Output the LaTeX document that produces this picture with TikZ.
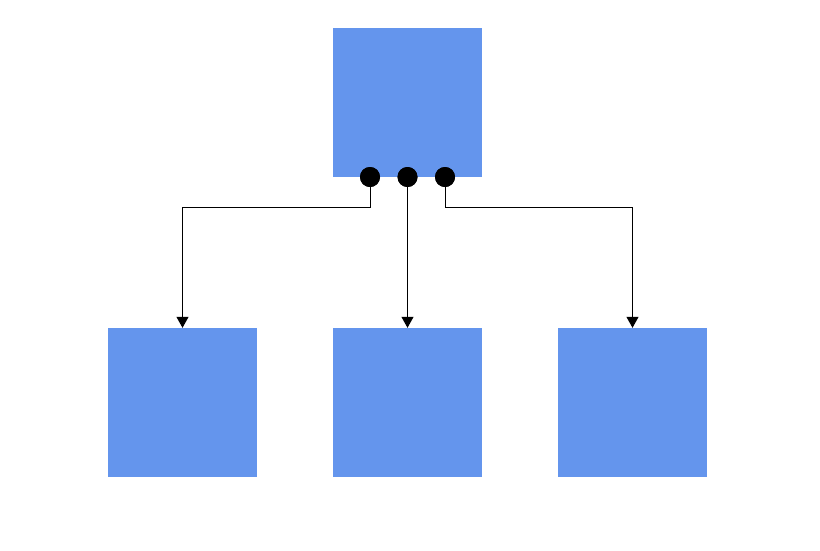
\documentclass[tikz,border=0pt]{standalone}
\usetikzlibrary{arrows.meta}
\definecolor{boxblue}{HTML}{6495ED}
\begin{document}
\begin{tikzpicture}[x=1pt,y=-1pt,
  box/.style={fill=boxblue,draw=none,minimum width=149pt,minimum height=149pt,inner sep=0pt},
  dot/.style={circle,fill=black,minimum size=20pt,inner sep=0pt},
  conn/.style={draw=black,line width=1pt,-{Triangle[length=11pt,width=12pt]}}]
\useasboundingbox (0,0) rectangle (820,550);
\node[box] (top) at (407.5,102.5) {};
\node[box] (l) at (182.5,402.5) {};
\node[box] (m) at (407.5,402.5) {};
\node[box] (r) at (632.5,402.5) {};
\node[dot] (d1) at (370,177) {};
\node[dot] (d2) at (407.5,177) {};
\node[dot] (d3) at (445,177) {};
\draw[conn] (d1.center) |- (182.5,207) -- (l.north);
\draw[conn] (d2.center) -- (m.north);
\draw[conn] (d3.center) |- (632.5,207) -- (r.north);
\node[dot] at (d1) {};
\node[dot] at (d2) {};
\node[dot] at (d3) {};
\end{tikzpicture}
\end{document}
